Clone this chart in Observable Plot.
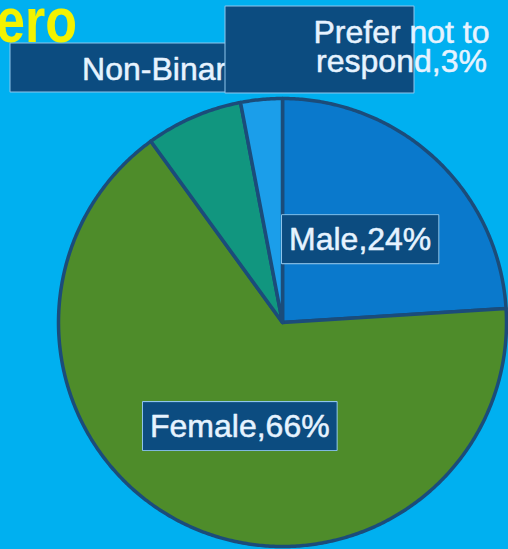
<!DOCTYPE html>
<html><head><meta charset="utf-8">
<script src="https://cdn.jsdelivr.net/npm/d3@7"></script>
<script src="https://cdn.jsdelivr.net/npm/@observablehq/plot@0.6"></script>
<style>
html,body{margin:0;padding:0;background:#00B0F0;overflow:hidden}
#wrap{position:relative;width:508px;height:549px}
#wrap svg{position:absolute;left:0;top:0}
#title{position:absolute;left:-4px;top:-11px;font:bold 52px/52px "Liberation Sans",Arial,sans-serif;color:#F2F200;transform:scaleY(1.2);transform-origin:0 0;z-index:2}
</style></head><body><div id="wrap"><div id="title">ero</div></div>
<script>
// ---- data ----
const categories = ["Male", "Female", "Non-Binary", "Prefer not to respond"];
const percents = [24, 66, 7, 3];
const labelTexts = ["Male,24%", "Female,66%", "Non-Binary,7%", "Prefer not to\nrespond,3%"];

// ---- style / layout ----
const sliceColors = ["#0A79CC", "#4E8C2A", "#11967F", "#1B9EEA"];
const edgeColor = "#1B4C7A";
const cx = 282, cy = 322, R = 224;
const labelLayout = [
  {r: 0.5, nudge: [1, 0]},
  {r: 0.5, nudge: [5, 4]},
  {px: [188, 70], box: [10, 43, 300, 91]},
  {px: [401, 47.5], box: [225, 6, 413, 92]}
];

const pie = d3.pie().sort(null).value(d => d)(percents);
const pts = [];
pie.forEach((p, i) => {
  const cat = categories[i];
  pts.push({cat, x: 0, y: 0});
  const n = Math.max(2, Math.ceil((p.endAngle - p.startAngle) / (Math.PI / 360)));
  for (let k = 0; k <= n; k++) {
    const a = p.startAngle + (p.endAngle - p.startAngle) * k / n;
    pts.push({cat, x: Math.sin(a), y: Math.cos(a)});
  }
  pts.push({cat, x: 0, y: 0});
});

const labels = pie.map((p, i) => {
  const L = labelLayout[i];
  if (L.px) return {text: labelTexts[i], x: (L.px[0] - cx) / R, y: (cy - L.px[1]) / R, box: L.box};
  const a = (p.startAngle + p.endAngle) / 2;
  return {text: labelTexts[i], x: L.r * Math.sin(a) + L.nudge[0] / R, y: L.r * Math.cos(a) - L.nudge[1] / R, box: null};
});

const plot = Plot.plot({
  width: 508, height: 549, margin: 0,
  x: {domain: [-1, 1], range: [cx - R, cx + R], axis: null},
  y: {domain: [-1, 1], range: [cy + R, cy - R], axis: null},
  color: {domain: categories, range: sliceColors},
  style: {background: "transparent", overflow: "visible"},
  marks: [
    Plot.line(pts, {x: "x", y: "y", z: "cat", fill: "cat", stroke: edgeColor, strokeWidth: 3.5, strokeLinejoin: "round"}),
    Plot.text(labels, {x: "x", y: "y", text: "text", fill: "#E6F3FF", stroke: "#E6F3FF", strokeWidth: 0.5, fontSize: 32, fontFamily: "'Liberation Sans', Arial, sans-serif", lineHeight: 0.906, className: "lbl"})
  ]
});
document.getElementById("wrap").appendChild(plot);

// label boxes
const texts = plot.querySelectorAll("g.lbl text");
texts.forEach((t, i) => {
  const b = labels[i].box;
  let x1, y1, x2, y2;
  const r = document.createElementNS("http://www.w3.org/2000/svg", "rect");
  if (b) { [x1, y1, x2, y2] = b; }
  else {
    const bb = t.getBBox();
    x1 = bb.x - 7; y1 = bb.y - 6; x2 = bb.x + bb.width + 7; y2 = bb.y + bb.height + 6;
    const tr = t.getAttribute("transform");
    if (tr) r.setAttribute("transform", tr);
  }
  r.setAttribute("x", x1); r.setAttribute("y", y1);
  r.setAttribute("width", x2 - x1); r.setAttribute("height", y2 - y1);
  r.setAttribute("fill", "#0C4C80"); r.setAttribute("stroke", "#8FC6EC"); r.setAttribute("stroke-width", 2);
  t.parentNode.insertBefore(r, t);
});
</script></body></html>
